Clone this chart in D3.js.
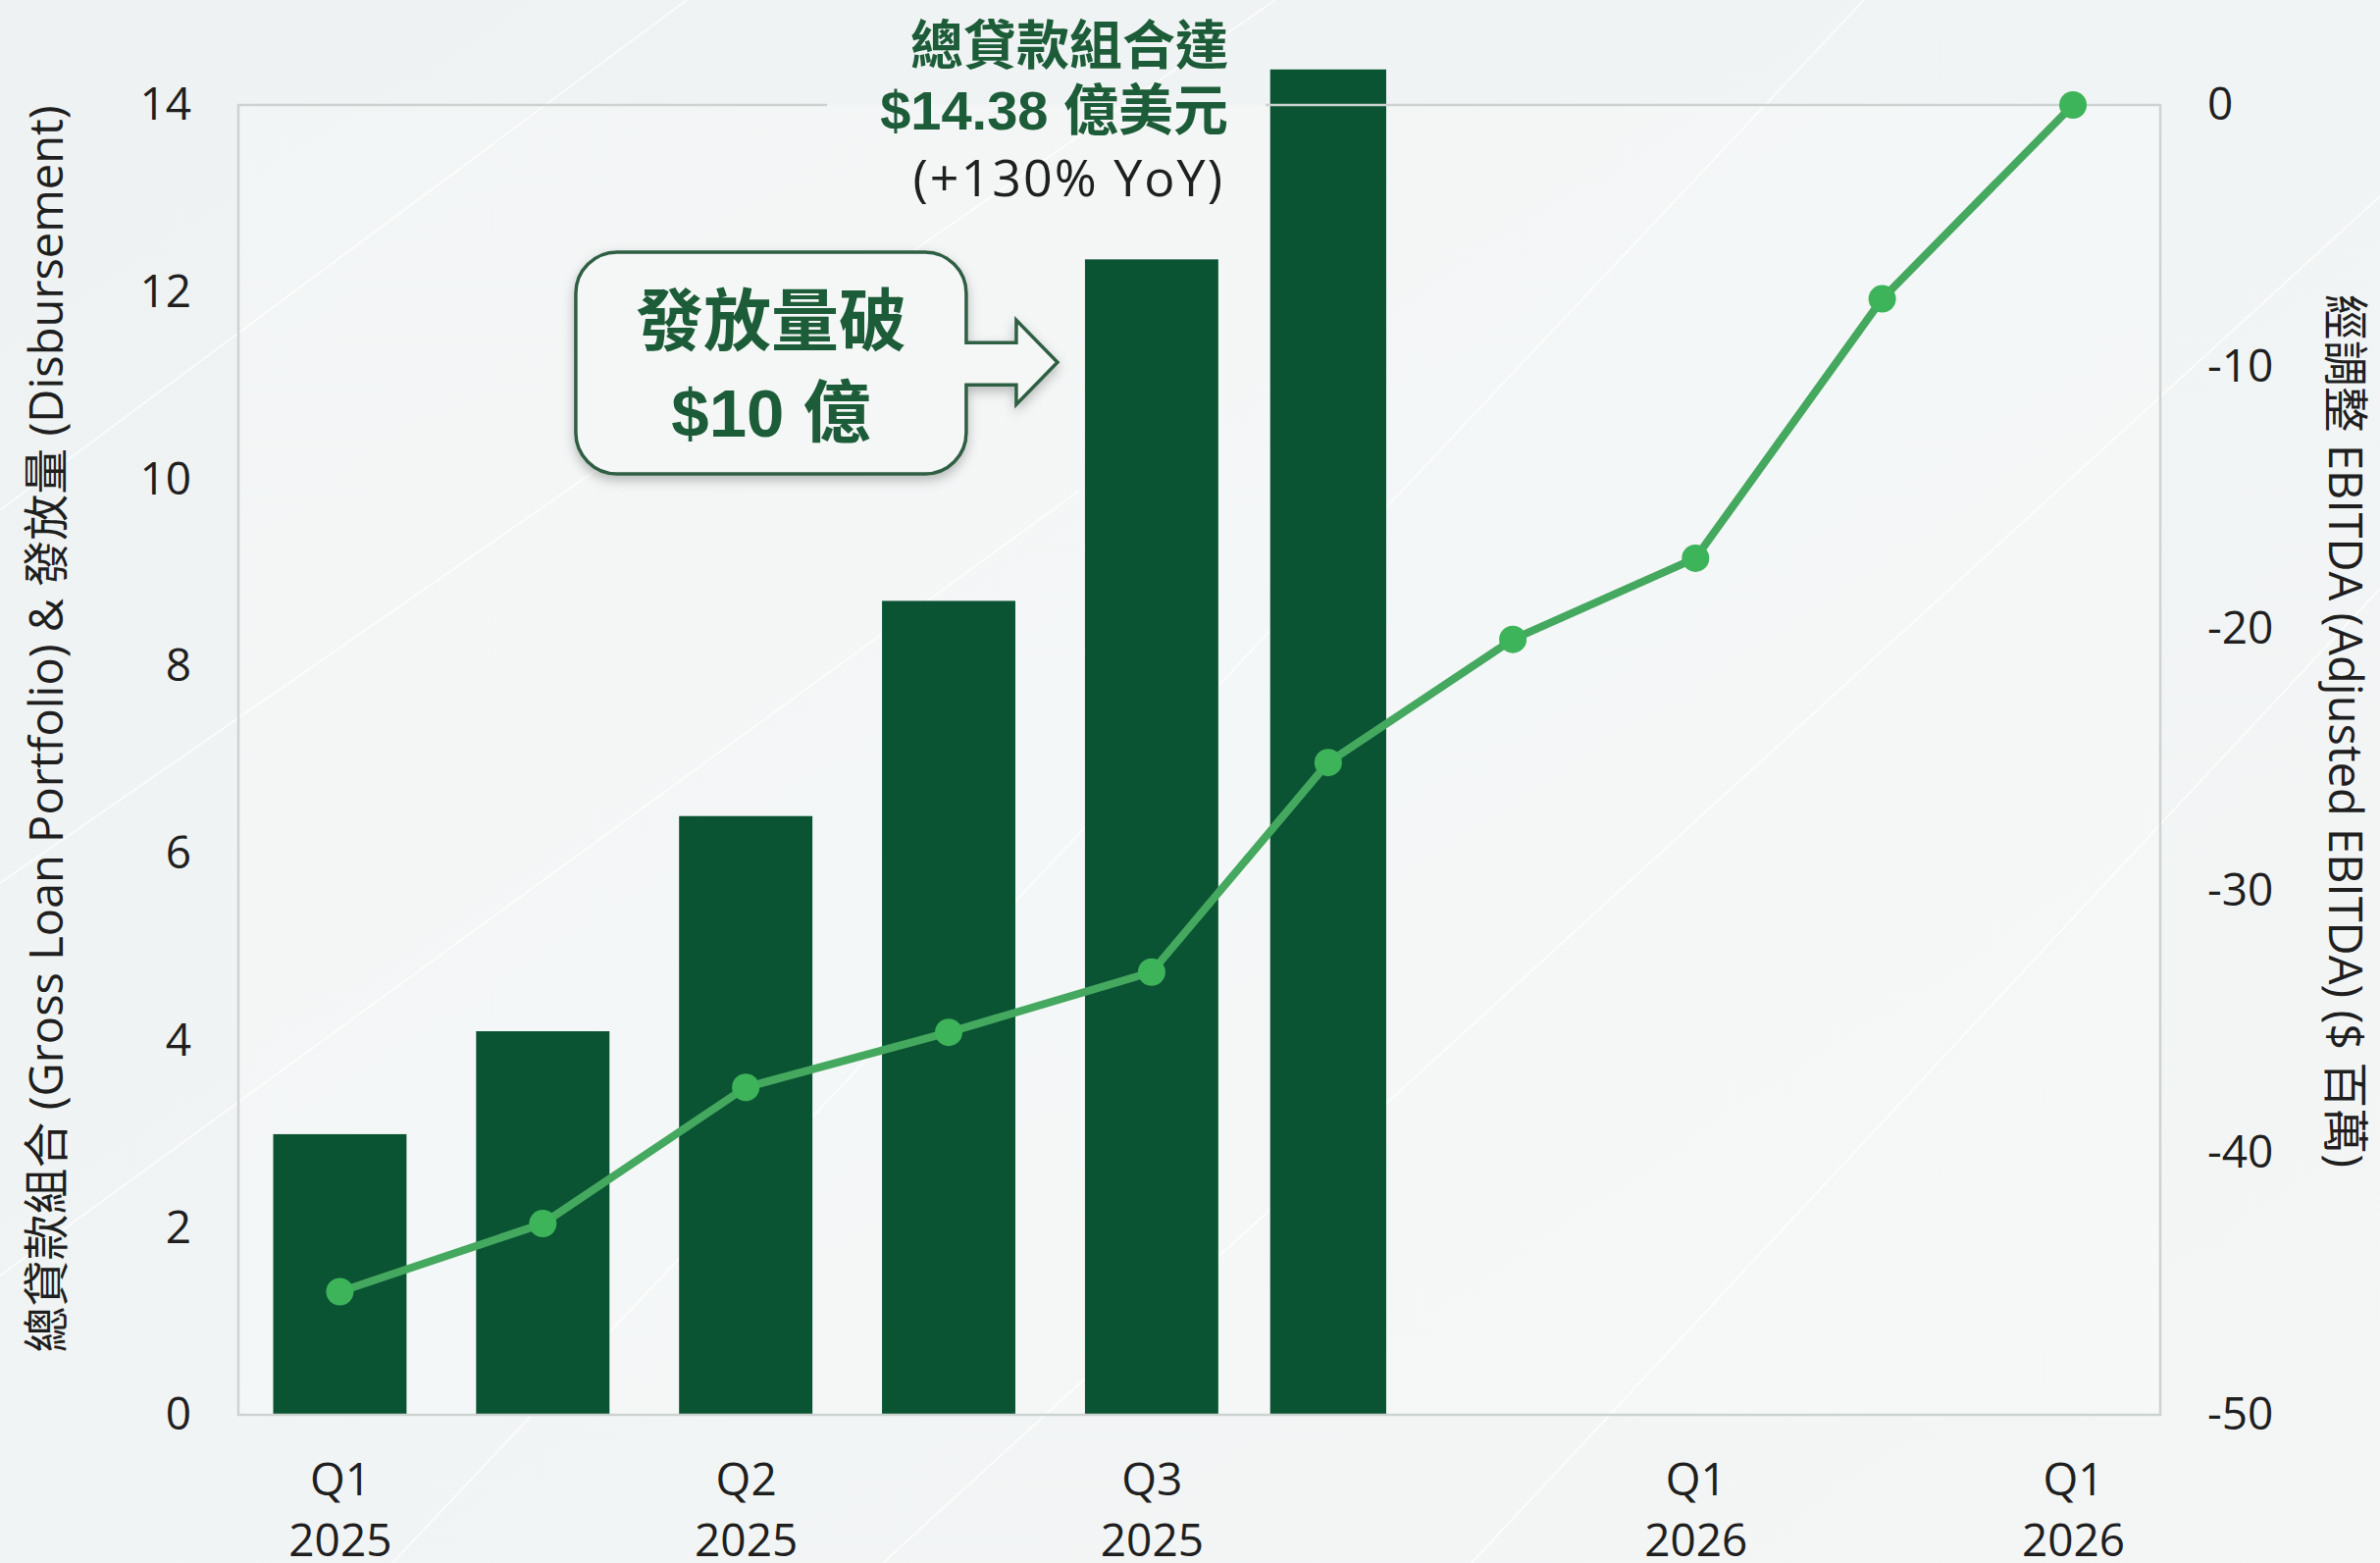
<!DOCTYPE html>
<meta charset="utf-8">
<style>
  body { margin: 0; background: #f1f4f4; }
  svg { display: block; }
  .tick text { font-family: "Open Sans", "Noto Sans CJK TC", sans-serif; fill: #1f1f1f; }
  .axis-title { font-family: "Open Sans", "Noto Sans CJK TC", sans-serif; fill: #1f1f1f; }
</style>
<body>
<div id="chart"></div>
<script src="https://d3js.org/d3.v7.min.js"></script>
<script>
// values
var xPos = [0, 1, 2, 3, 4, 4.87, 5.78, 6.68, 7.6, 8.54];   // period position of each point
var loanPortfolio = [3.0, 4.1, 6.4, 8.7, 12.35, 14.38];     // 億美元, bars
var ebitda = [-45.3, -42.7, -37.5, -35.4, -33.1, -25.1, -20.4, -17.3, -7.4, 0]; // $ 百萬
var tickIdx = [0, 2, 4, 7, 9];
var tickLabels = [["Q1", "2025"], ["Q2", "2025"], ["Q3", "2025"], ["Q1", "2026"], ["Q1", "2026"]];
var leftTicks = [0, 2, 4, 6, 8, 10, 12, 14];
var rightTicks = [0, -10, -20, -30, -40, -50];

var W = 2426, H = 1593;
var margin = {top: 107, right: 224, bottom: 151, left: 243};
var width = W - margin.left - margin.right,
    height = H - margin.top - margin.bottom;

var barColor = "#0a5433", lineColor = "#45a85f", dotColor = "#3db35a", annColor = "#1d5c38";

var svg = d3.select("#chart").append("svg")
    .attr("width", W).attr("height", H);

var defs = svg.append("defs");
var grad = defs.append("linearGradient").attr("id", "bg").attr("x1", 0).attr("y1", 0).attr("x2", 1).attr("y2", 1);
grad.append("stop").attr("offset", 0).attr("stop-color", "#eef2f2");
grad.append("stop").attr("offset", 1).attr("stop-color", "#f4f6f6");
var shadow = defs.append("filter").attr("id", "shadow").attr("x", -0.2).attr("y", -0.2).attr("width", 1.4).attr("height", 1.5);
shadow.append("feDropShadow").attr("dx", 0).attr("dy", 5).attr("stdDeviation", 6)
    .attr("flood-color", "#000").attr("flood-opacity", 0.25);

svg.append("rect").attr("width", W).attr("height", H).attr("fill", "url(#bg)");

// faint background texture
var bgLines = svg.append("g").attr("stroke", "#ffffff").attr("stroke-width", 2).attr("opacity", 0.7);
[[0, 520, 700, 0], [0, 900, 1300, 0], [400, 1593, 1900, 0], [1500, 1593, 2426, 600], [900, 1593, 2426, 200], [0, 1300, 1100, 500]]
  .forEach(function(l) {
    bgLines.append("line").attr("x1", l[0]).attr("y1", l[1]).attr("x2", l[2]).attr("y2", l[3]);
  });

var g = svg.append("g").attr("transform", "translate(" + margin.left + "," + margin.top + ")");

var x = d3.scaleLinear().domain([-0.5, 8.97]).range([0, width]);
var y = d3.scaleLinear().domain([0, 14]).range([height, 0]);
var y2 = d3.scaleLinear().domain([-50, 0]).range([height, 0]);

g.append("rect").attr("width", width).attr("height", height).attr("fill", "#ffffff").attr("opacity", 0.25);

// bars: width shrinks where the period step to the previous point gets shorter
function barW(i) {
  var prev = i > 0 ? xPos[i] - xPos[i - 1] : 1;
  return (x(Math.min(prev, 1)) - x(0)) * 0.657;
}
g.selectAll(".bar")
    .data(loanPortfolio)
  .enter().append("rect")
    .attr("class", "bar")
    .attr("x", function(d, i) { return x(xPos[i]) - barW(i) / 2; })
    .attr("y", function(d) { return y(d); })
    .attr("width", function(d, i) { return barW(i); })
    .attr("height", function(d) { return height - y(d); })
    .attr("fill", barColor);

// frame (top edge leaves room for the annotation text)
var gapL = 843 - margin.left, gapR = 1290 - margin.left;
var frame = g.append("g").attr("stroke", "#cdd3d1").attr("stroke-width", 2.5).attr("fill", "none");
frame.append("path").attr("d", "M" + gapL + ",0H0V" + height + "H" + width + "V0H" + gapR);

// EBITDA line
var line = d3.line()
    .x(function(d, i) { return x(xPos[i]); })
    .y(function(d) { return y2(d); });
g.append("path").datum(ebitda)
    .attr("d", line)
    .attr("fill", "none").attr("stroke", lineColor).attr("stroke-width", 8)
    .attr("stroke-linejoin", "round");
g.selectAll(".dot").data(ebitda).enter().append("circle")
    .attr("class", "dot")
    .attr("cx", function(d, i) { return x(xPos[i]); })
    .attr("cy", function(d) { return y2(d); })
    .attr("r", 14).attr("fill", dotColor);

// axes
var ax = g.append("g").attr("transform", "translate(0," + height + ")")
    .call(d3.axisBottom(x).tickValues(tickIdx.map(function(i) { return xPos[i]; })).tickSize(0).tickFormat(""));
ax.select(".domain").remove();
ax.selectAll(".tick").each(function(d, k) {
  var t = d3.select(this).append("text").attr("text-anchor", "middle").style("font-size", "46px");
  t.append("tspan").attr("x", 0).attr("y", 82).text(tickLabels[k][0]);
  t.append("tspan").attr("x", 0).attr("y", 144).text(tickLabels[k][1]);
});

var plain = function(d) { return String(d); };
var ayl = g.append("g").call(d3.axisLeft(y).tickValues(leftTicks).tickFormat(plain).tickSize(0).tickPadding(48));
ayl.select(".domain").remove();
ayl.selectAll("text").style("font-size", "46px");

var ayr = g.append("g").attr("transform", "translate(" + width + ",0)")
    .call(d3.axisRight(y2).tickValues(rightTicks).tickFormat(plain).tickSize(0).tickPadding(48));
ayr.select(".domain").remove();
ayr.selectAll("text").style("font-size", "46px");

// axis titles
svg.append("text").attr("class", "axis-title")
    .attr("transform", "translate(46,743) rotate(-90)")
    .attr("text-anchor", "middle").attr("dominant-baseline", "central")
    .style("font-size", "47px")
    .text("總貸款組合 (Gross Loan Portfolio) & 發放量 (Disbursement)");
svg.append("text").attr("class", "axis-title")
    .attr("transform", "translate(2392,745) rotate(90)")
    .attr("text-anchor", "middle").attr("dominant-baseline", "central")
    .style("font-size", "47px")
    .text("經調整 EBITDA (Adjusted EBITDA) ($ 百萬)");

// top annotation
var annX = 1252;
var ann = svg.append("g").attr("text-anchor", "end");
ann.append("text").attr("x", annX).attr("y", 66)
    .style("font-family", "'Liberation Sans', 'Noto Sans CJK TC', sans-serif").style("font-weight", 700)
    .style("font-size", "54px").attr("fill", annColor).text("總貸款組合達");
ann.append("text").attr("x", annX).attr("y", 132)
    .style("font-family", "'Liberation Sans', 'Noto Sans CJK TC', sans-serif").style("font-weight", 700)
    .style("font-size", "56px").attr("fill", annColor).text("$14.38 億美元");
ann.append("text").attr("x", annX - 4).attr("y", 200)
    .style("font-family", "'Open Sans', sans-serif").style("letter-spacing", "2px")
    .style("font-size", "52px").attr("fill", "#1f1f1f").text("(+130% YoY)");

// callout box pointing at the Q3 2025 bar
var tipX = margin.left + x(xPos[4]) - barW(4) / 2 - 28,
    tipY = margin.top + y(11.25);
var bx0 = tipX - 491, bx1 = tipX - 93, by0 = 257, by1 = 483, r = 42;
var p = d3.path();
p.moveTo(bx0 + r, by0);
p.lineTo(bx1 - r, by0);
p.arcTo(bx1, by0, bx1, by0 + r, r);
p.lineTo(bx1, tipY - 20);
p.lineTo(tipX - 42, tipY - 20);
p.lineTo(tipX - 42, tipY - 43);
p.lineTo(tipX, tipY);
p.lineTo(tipX - 42, tipY + 43);
p.lineTo(tipX - 42, tipY + 23);
p.lineTo(bx1, tipY + 23);
p.lineTo(bx1, by1 - r);
p.arcTo(bx1, by1, bx1 - r, by1, r);
p.lineTo(bx0 + r, by1);
p.arcTo(bx0, by1, bx0, by1 - r, r);
p.lineTo(bx0, by0 + r);
p.arcTo(bx0, by0, bx0 + r, by0, r);
p.closePath();
svg.append("path").attr("d", p.toString())
    .attr("fill", "#f4f7f6").attr("stroke", "#2f5e43").attr("stroke-width", 3.5)
    .attr("filter", "url(#shadow)");
var bcx = (bx0 + bx1) / 2;
svg.append("text").attr("x", bcx).attr("y", 352).attr("text-anchor", "middle")
    .style("font-family", "'Noto Sans CJK TC', sans-serif").style("font-weight", 700)
    .style("font-size", "69px").attr("fill", annColor).text("發放量破");
svg.append("text").attr("x", bcx).attr("y", 445).attr("text-anchor", "middle")
    .style("font-family", "'Liberation Sans', 'Noto Sans CJK TC', sans-serif").style("font-weight", 700)
    .style("font-size", "69px").attr("fill", annColor).text("$10 億");
</script>
</body>
